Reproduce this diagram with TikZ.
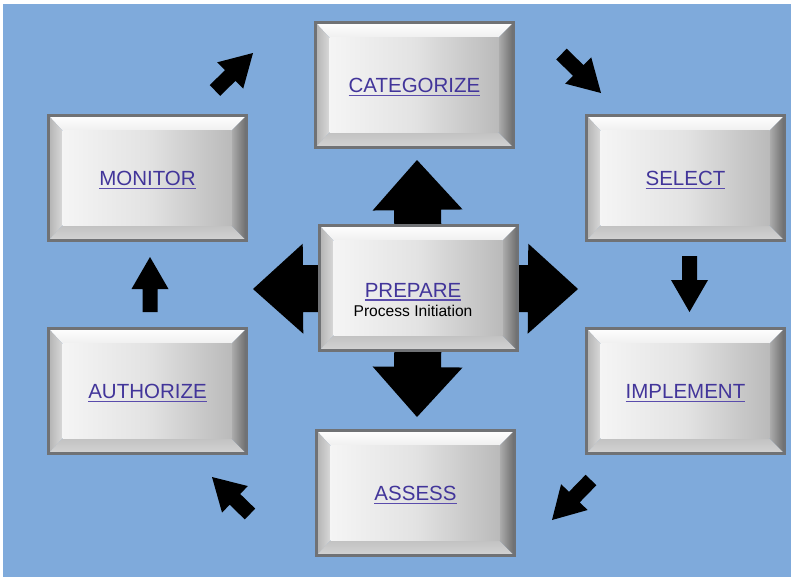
\documentclass[tikz,border=0pt]{standalone}
\usepackage{fontspec}
\setmainfont{Liberation Sans}
\usetikzlibrary{calc}

\definecolor{sky}{RGB}{127,170,219}
\definecolor{rim}{HTML}{707275}
\definecolor{ink}{HTML}{42359A}
\definecolor{inkline}{HTML}{5A4CAC}

\pgfdeclarelayer{backlayer}
\pgfdeclarelayer{arrowlayer}
\pgfsetlayers{backlayer,arrowlayer,main}

% underlined link-style label
\newsavebox\ulbox
\newcommand\ulabel[1]{\sbox\ulbox{#1}\rlap{\color{inkline}\rule[-3.6pt]{\wd\ulbox}{1.5pt}}\usebox\ulbox}

% block arrow: #1 tail, #2 tip, #3 half shaft width, #4 half head width, #5 head length
\newcommand\blockarrow[5]{%
  \coordinate (ba-h) at ($(#2)!#5!(#1)$);
  \fill[arrowfill] ($(#1)!#3!90:(#2)$) -- ($(ba-h)!#3!90:(#2)$) -- ($(ba-h)!#4!90:(#2)$)
    -- (#2) -- ($(ba-h)!#4!-90:(#2)$) -- ($(ba-h)!#3!-90:(#2)$) -- ($(#1)!#3!-90:(#2)$) -- cycle;
}

\tikzset{
  arrowfill/.style={fill=black},
  bevelbox/.style={
    minimum width=198pt, minimum height=125pt, inner sep=0pt,
    draw=rim, line width=3pt, text=ink,
    font=\fontsize{20.5}{24}\selectfont, text height=15pt, text depth=0pt,
    path picture={
      \coordinate (A) at (path picture bounding box.north west);
      \coordinate (B) at (path picture bounding box.north east);
      \coordinate (C) at (path picture bounding box.south east);
      \coordinate (D) at (path picture bounding box.south west);
      \coordinate (a) at ($(A)+(14pt,-15pt)$);
      \coordinate (b) at ($(B)+(-15pt,-15pt)$);
      \coordinate (c) at ($(C)+(-15pt,15pt)$);
      \coordinate (d) at ($(D)+(14pt,15pt)$);
      \shade[top color=white, bottom color=black!6] (A) -- (B) -- (b) -- (a) -- cycle;
      \shade[left color=black!30, right color=black!15] (A) -- (a) -- (d) -- (D) -- cycle;
      \shade[top color=black!24, bottom color=black!17] (D) -- (d) -- (c) -- (C) -- cycle;
      \shade[left color=black!32, right color=black!58] (B) -- (C) -- (c) -- (b) -- cycle;
      \shade[left color=black!4, right color=black!27, middle color=black!11] (a) rectangle (c);
    }},
  subtext/.style={font=\fontsize{15.6}{18}\selectfont, text=black, inner sep=0pt, anchor=base},
  toptext/.style={font=\fontsize{20.5}{24}\selectfont, text=ink, inner sep=0pt, anchor=base},
}

\begin{document}
\begin{tikzpicture}[x=1pt,y=-1pt]
  \useasboundingbox (0,0) rectangle (794,579);
  \begin{pgfonlayer}{backlayer}
    \fill[sky] (3,4) rectangle (791,577);
  \end{pgfonlayer}

  % process steps
  \node[bevelbox] (cat)  at (414.5,85)  {\ulabel{CATEGORIZE}};
  \node[bevelbox] (mon)  at (147.5,178) {\ulabel{MONITOR}};
  \node[bevelbox] (sel)  at (685.5,178) {\ulabel{SELECT}};
  \node[bevelbox] (prep) at (418.5,288) {};
  \node[bevelbox] (auth) at (147.5,391) {\ulabel{AUTHORIZE}};
  \node[bevelbox] (impl) at (685.5,391) {\ulabel{IMPLEMENT}};
  \node[bevelbox] (ass)  at (415.5,493) {\ulabel{ASSESS}};

  \node[toptext] (prepT) at (413,297) {\ulabel{PREPARE}};
  \node[subtext] (prepS) at (413,316) {Process Initiation};

  % arrow tips and tails
  \coordinate (upTip)    at (417,160);
  \coordinate (downTip)  at (417,417);
  \coordinate (leftTip)  at (253,289);
  \coordinate (rightTip) at (578,289);

  \coordinate (t1) at (215,90.5);  \coordinate (h1) at (253,53);
  \coordinate (t2) at (561.5,54);  \coordinate (h2) at (601,93);
  \coordinate (t3) at (689.5,256); \coordinate (h3) at (689.5,312);
  \coordinate (t4) at (591,480);   \coordinate (h4) at (552,520);
  \coordinate (t5) at (250,514);   \coordinate (h5) at (212,477);
  \coordinate (t6) at (150,312);   \coordinate (h6) at (150,257);

  \begin{pgfonlayer}{arrowlayer}
    % four-way arrows out of the preparation step
    \blockarrow{prep.center}{upTip}{23.5pt}{45pt}{50pt}
    \blockarrow{prep.center}{downTip}{23.5pt}{45pt}{50pt}
    \blockarrow{prep.center}{leftTip}{23.5pt}{45pt}{50pt}
    \blockarrow{prep.center}{rightTip}{23.5pt}{45pt}{50pt}
    % cycle between the steps
    \blockarrow{t1}{h1}{7.5pt}{18.5pt}{32pt}
    \blockarrow{t2}{h2}{7.5pt}{18.5pt}{32pt}
    \blockarrow{t3}{h3}{7.5pt}{18.5pt}{32pt}
    \blockarrow{t4}{h4}{7.5pt}{18.5pt}{32pt}
    \blockarrow{t5}{h5}{7.5pt}{18.5pt}{32pt}
    \blockarrow{t6}{h6}{7.5pt}{18.5pt}{32pt}
  \end{pgfonlayer}
\end{tikzpicture}
\end{document}
